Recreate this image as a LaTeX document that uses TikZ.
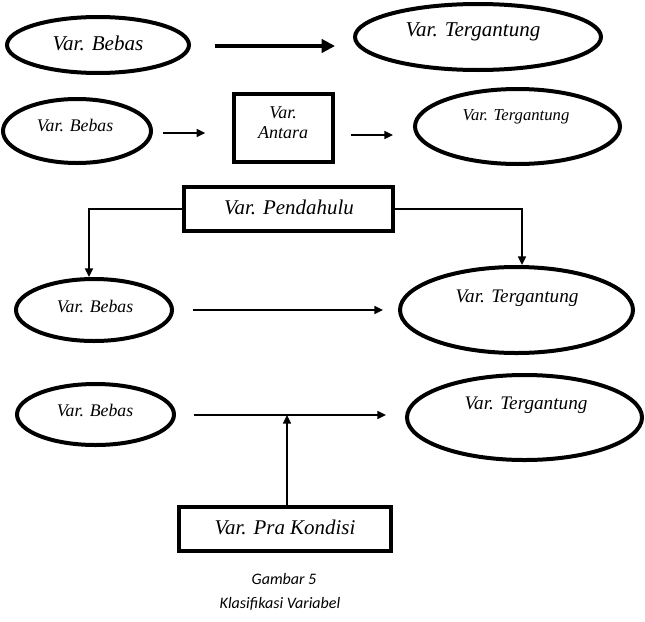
\documentclass[tikz,border=0pt]{standalone}
\usepackage{fontspec}
\setmainfont{Liberation Serif}
\newfontfamily\capfont{Carlito}
\usetikzlibrary{shapes.geometric,arrows.meta,calc}

\tikzset{
	varoval/.style={ellipse, draw, line width=3pt, inner sep=0pt},
	varbox/.style={rectangle, draw, line width=3pt, inner sep=0pt},
	teks/.style={inner sep=0pt, align=center},
	panah/.style={line width=1.2pt, -{Triangle[length=6.5pt,width=6pt]}},
	garis/.style={line width=1.2pt}}

\begin{document}
\begin{tikzpicture}[x=0.75pt,y=0.75pt,yscale=-1,xscale=1]
	\useasboundingbox (0,0) rectangle (645,621);

	% baris 1
	\node[varoval, minimum width=136.5pt, minimum height=42pt] (b1) at (98,45) {};
	\node[varoval, minimum width=184.5pt, minimum height=49.5pt] (t1) at (478,37) {};
	\node[teks, font=\fontsize{15.8}{18}\selectfont\itshape] (tb1) at (98,43) {Var. Bebas};
	\node[teks, font=\fontsize{15.8}{18}\selectfont\itshape] (tt1) at (473,32) {Var. Tergantung};
	\draw[line width=2.6pt, -{Triangle[length=10pt,width=10pt]}] ($(b1.east)+(24,1)$) -- ($(t1.west)+(-18,9)$);

	% baris 2
	\node[varoval, minimum width=111pt, minimum height=48pt] (b2) at (77,131) {};
	\node[varbox, line width=2.5pt, minimum width=74.25pt, minimum height=51pt] (antara) at (283.5,128) {};
	\node[varoval, minimum width=153.75pt, minimum height=56.25pt] (t2) at (517.5,126.5) {};
	\node[teks, font=\fontsize{13.3}{15}\selectfont\itshape] (tb2) at (75,125) {Var. Bebas};
	\node[teks, font=\fontsize{13.5}{15}\selectfont\itshape] (ta) at (283,123) {Var.\\Antara};
	\node[teks, font=\fontsize{12.5}{15}\selectfont\itshape] (tt2) at (516,117) {Var. Tergantung};
	\draw[panah] ($(b2.east)+(10,2)$) -- ($(antara.west)+(-27,5)$);
	\draw[panah] ($(antara.east)+(16,7)$) -- ($(t2.west)+(-20,8.5)$);

	% baris 3
	\node[varbox, minimum width=156.75pt, minimum height=33pt] (pendahulu) at (288.5,209) {};
	\node[varoval, minimum width=117pt, minimum height=46.5pt] (b3) at (94,310) {};
	\node[varoval, minimum width=174.75pt, minimum height=64.5pt] (t3) at (516.5,310) {};
	\node[teks, font=\fontsize{15.7}{18}\selectfont\itshape] (tp) at (289,207) {Var. Pendahulu};
	\node[teks, font=\fontsize{13.3}{15}\selectfont\itshape] (tb3) at (95,306) {Var. Bebas};
	\node[teks, font=\fontsize{14.4}{17}\selectfont\itshape] (tt3) at (517,298) {Var. Tergantung};
	\draw[panah] (pendahulu.west) -| ($(b3.north)+(-5,0)$);
	\draw[panah] (pendahulu.east) -| ($(t3.north)+(5.5,0)$);
	\draw[panah] ($(b3.east)+(19,0)$) -- ($(t3.west)+(-15,0)$);

	% baris 4
	\node[varoval, minimum width=117.75pt, minimum height=45.75pt] (b4) at (95.5,414.5) {};
	\node[varoval, minimum width=176.25pt, minimum height=63.75pt] (t4) at (524.5,417.5) {};
	\node[varbox, minimum width=159pt, minimum height=33pt] (prakondisi) at (285,529) {};
	\node[teks, font=\fontsize{13.3}{15}\selectfont\itshape] (tb4) at (95,410) {Var. Bebas};
	\node[teks, font=\fontsize{14.4}{17}\selectfont\itshape] (tt4) at (526,405) {Var. Tergantung};
	\node[teks, font=\fontsize{15.7}{18}\selectfont\itshape] (tk) at (285,527) {Var. Pra Kondisi};
	\draw[panah] ($(b4.east)+(18,0.5)$) -- ($(t4.west)+(-19,-2.5)$);
	\draw[panah] ($(prakondisi.north)+(2,0)$) -- ++(0,-90);

	% keterangan
	\node[teks, font=\fontsize{12}{14}\capfont\itshape] (gbr) at (284,579) {Gambar 5};
	\node[teks, font=\fontsize{12}{14}\capfont\itshape] (judul) at (280,604) {Klasifikasi Variabel};
\end{tikzpicture}
\end{document}
